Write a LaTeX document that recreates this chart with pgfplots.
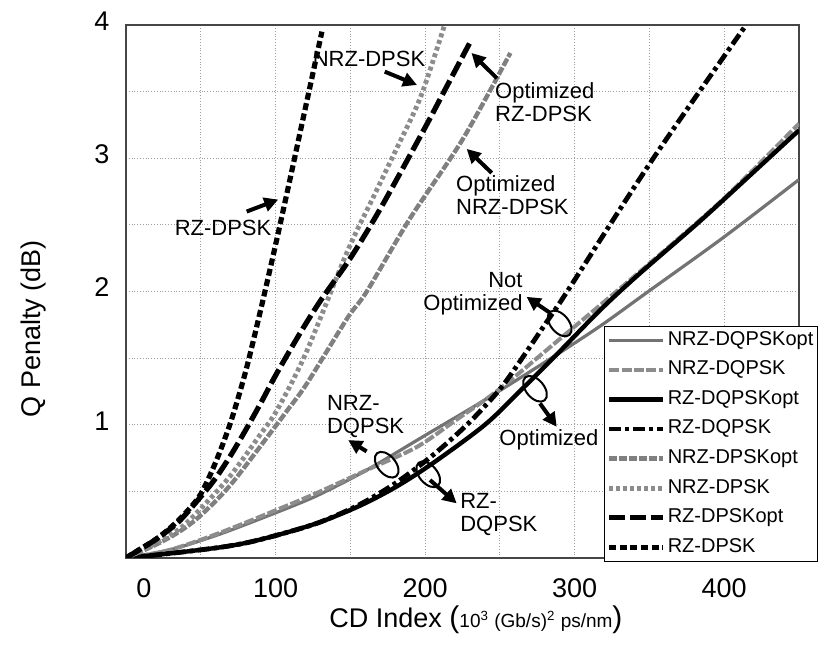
\documentclass[border=0pt]{standalone}
\usepackage{fontspec}
\setmainfont{Liberation Sans}
\usepackage{pgfplots}
\pgfplotsset{compat=1.18}
\usetikzlibrary{arrows.meta,shapes.geometric}

\begin{document}
\begin{tikzpicture}
\begin{axis}[
  scale only axis, width=336.5pt, height=266.5pt,
  xmin=0, xmax=450, ymin=0, ymax=4,
  xtick={0,50,...,450}, xticklabels={\hspace*{18pt}0,,100,,200,,300,,400,},
  ytick={0,0.5,...,4}, yticklabels={,,1,,2,,3,,4},
  grid=major, major grid style={densely dotted, gray!75, line width=0.5pt},
  major tick length=0pt,
  axis line style={gray!55!black, line width=1.3pt},
  /pgf/number format/assume math mode=true,
  tick label style={font=\fontsize{13.5}{15}\selectfont},
  xticklabel style={anchor=center, yshift=-15pt},
  yticklabel style={anchor=center, xshift=-12pt, yshift=2pt},
  xlabel={CD Index {\fontsize{15}{16}\selectfont(}{\fontsize{9.5}{11}\selectfont 10\textsuperscript{3} (Gb/s)\textsuperscript{2} ps/nm}{\fontsize{15}{16}\selectfont)}},
  ylabel={Q Penalty (dB)},
  label style={font=\fontsize{13.5}{15}\selectfont},
  xlabel style={at={(axis description cs:0.52,-0.1163)}, anchor=center},
  ylabel style={at={(axis description cs:-0.1367,0.43)}, anchor=center},
  legend style={at={(axis description cs:1.0282,-0.0075)}, anchor=south east,
    draw=black, line width=0.6pt, fill=white,
    font=\fontsize{10}{11}\selectfont, inner sep=1pt, row sep=2.8pt,
    nodes={inner sep=1pt, text height=7.5pt, text depth=2.5pt},
    cells={anchor=west}},
  legend image code/.code={\draw[#1] (0pt,0pt) -- (27pt,0pt);},
  legend cell align=left,
]
% NRZ-DQPSKopt
\addplot[color=black!55, line width=1.6pt, smooth] coordinates {
(0,0) (29,0.06) (63,0.18) (107,0.37) (130,0.48) (161,0.66) (200,0.92) (239,1.18) (283,1.49) (317,1.74) (348,1.99) (400,2.41) (450,2.84)};
\addlegendentry{NRZ-DQPSKopt}
% NRZ-DQPSK
\addplot[color=black!45, line width=2pt, dash pattern=on 5pt off 1.2pt, smooth] coordinates {
(0,0) (29,0.06) (63,0.19) (107,0.39) (130,0.5) (161,0.66) (194,0.83) (220,1.03) (250,1.27) (295,1.69) (350,2.21) (400,2.7) (450,3.26)};
\addlegendentry{NRZ-DQPSK}
% RZ-DQPSKopt
\addplot[color=black, line width=2.2pt, smooth] coordinates {
(0,0) (30,0.035) (63,0.08) (83,0.12) (107,0.19) (130,0.27) (156,0.39) (180,0.53) (205,0.71) (240,1.0) (265,1.27) (290,1.55) (317,1.86) (342,2.12) (384,2.53) (420,2.9) (450,3.21)};
\addlegendentry{RZ-DQPSKopt}
% RZ-DQPSK
\addplot[color=black, line width=2.4pt, dash pattern=on 6pt off 2pt on 2pt off 2pt, smooth] coordinates {
(0,0) (30,0.035) (63,0.08) (83,0.12) (107,0.19) (130,0.27) (156,0.4) (180,0.56) (205,0.77) (228,1.0) (248,1.24) (260,1.42) (283,1.8) (295,2.0) (352,2.99) (414,3.99)};
\addlegendentry{RZ-DQPSK}
% NRZ-DPSKopt
\addplot[color=black!50, line width=2.2pt, dash pattern=on 4pt off 1pt, smooth] coordinates {
(0,0) (20,0.1) (36,0.2) (50,0.32) (70,0.55) (98,0.96) (108,1.11) (121,1.31) (148,1.8) (161,2.0) (190,2.55) (225,3.14) (257,3.79)};
\addlegendentry{NRZ-DPSKopt}
% NRZ-DPSK
\addplot[color=black!45, line width=2.4pt, dash pattern=on 2pt off 1.5pt, smooth] coordinates {
(0,0) (20,0.11) (36,0.22) (50,0.37) (70,0.62) (90,0.93) (101,1.11) (120,1.53) (148,2.3) (165,2.7) (180,3.05) (197,3.46) (213,4.0)};
\addlegendentry{NRZ-DPSK}
% RZ-DPSKopt
\addplot[color=black, line width=2.6pt, dash pattern=on 8pt off 2.5pt, smooth] coordinates {
(0,0) (10,0.07) (20,0.14) (35,0.27) (50,0.46) (60,0.6) (70,0.77) (80,0.96) (90,1.16) (100,1.37) (116,1.68) (130,1.93) (150,2.25) (170,2.62) (199,3.21) (215,3.55) (231,3.89)};
\addlegendentry{RZ-DPSKopt}
% RZ-DPSK
\addplot[color=black, line width=2.6pt, dash pattern=on 3.5pt off 1.8pt, smooth] coordinates {
(0,0) (10,0.07) (20,0.14) (30,0.23) (40,0.34) (50,0.48) (60,0.72) (70,1.02) (80,1.4) (90,1.86) (100,2.35) (110,2.86) (120,3.38) (131,3.95)};
\addlegendentry{RZ-DPSK}

% annotations
\begin{scope}[every node/.style={font=\fontsize{11}{11.5}\selectfont, inner sep=0pt}]
\node at (axis cs:162.5,3.745) {NRZ-DPSK};
\node at (axis cs:64.9,2.48) {RZ-DPSK};
\node[align=left] at (axis cs:280,3.42) {Optimized\\RZ-DPSK};
\node[align=left] at (axis cs:258.4,2.72) {Optimized\\NRZ-DPSK};
\node[align=right, anchor=east] at (axis cs:265.4,1.98) {Not\\Optimized};
\node at (axis cs:282.8,0.89) {Optimized};
\node[align=left, anchor=north west] at (axis cs:134.2,1.22) {NRZ-\\DQPSK};
\node[align=left, anchor=north west] at (axis cs:223.3,0.487) {RZ-\\DQPSK};
\end{scope}
\begin{scope}[line width=2pt, -{Triangle[length=7pt,width=7pt]}]
\draw (axis cs:173,3.65) -- (axis cs:194.6,3.55);
\draw (axis cs:80.7,2.6) -- (axis cs:101.8,2.69);
\draw (axis cs:248,3.6) -- (axis cs:231,3.79);
\draw (axis cs:244.5,2.89) -- (axis cs:227.8,3.07);
\draw (axis cs:283.5,1.84) -- (axis cs:267.8,1.96);
\draw (axis cs:276.8,1.16) -- (axis cs:288,0.985);
\draw (axis cs:160.9,0.80) -- (axis cs:148.6,0.885);
\draw (axis cs:203.3,0.585) -- (axis cs:221.1,0.41);
\end{scope}
\begin{scope}[every node/.style={draw, ellipse, line width=1pt, minimum width=15pt, minimum height=9pt, inner sep=0pt, rotate=-50}]
\node at (axis cs:290,1.76) {};
\node at (axis cs:273.5,1.27) {};
\node at (axis cs:174.3,0.70) {};
\node at (axis cs:202.1,0.628) {};
\end{scope}
\end{axis}
\pgfresetboundingbox
\path (-63pt,-46.5pt) rectangle (346pt,279pt);
\end{tikzpicture}
\end{document}
